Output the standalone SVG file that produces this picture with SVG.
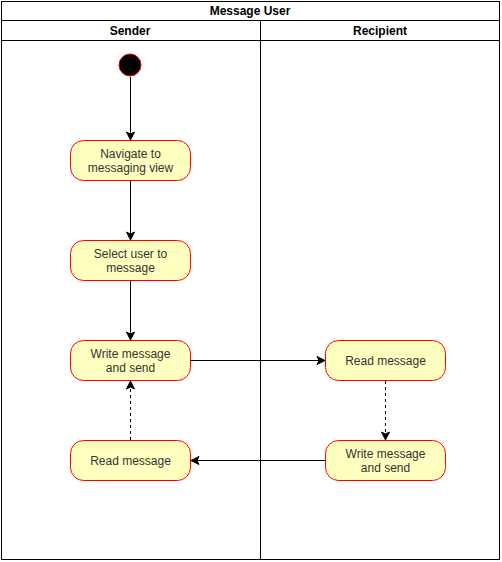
<svg xmlns="http://www.w3.org/2000/svg" width="502" height="562" viewBox="0 0 502 562">
<defs>
<marker id="arr" markerWidth="10" markerHeight="10" refX="9" refY="5" orient="auto" markerUnits="userSpaceOnUse">
<path d="M1,1 L9,5 L1,9 L3,5 Z" fill="#000" stroke="#000" stroke-width="1"/>
</marker>
</defs>
<style>
text{font-family:"Liberation Sans",Arial,sans-serif;font-size:12px;fill:#000;text-anchor:middle}
.hdr{font-weight:bold}
.lane{fill:#fff;stroke:#000;stroke-width:1}
.act rect{fill:#ffffc0;stroke:#ff0000;stroke-width:1}
.act text{fill:#333}
.e{fill:none;stroke:#000;stroke-width:1}
.d{stroke-dasharray:3,3}
</style>
<g id="pool">
<rect class="lane" x="1.5" y="1.5" width="498" height="558"/>
<line x1="1.5" y1="20.5" x2="499.5" y2="20.5" stroke="#000"/>
<line x1="1.5" y1="40.5" x2="499.5" y2="40.5" stroke="#000"/>
<line x1="260.5" y1="20.5" x2="260.5" y2="559.5" stroke="#000"/>
<text class="hdr" x="250" y="15">Message User</text>
<text class="hdr" x="130" y="35">Sender</text>
<text class="hdr" x="380" y="35">Recipient</text>
</g>
<g id="start"><circle cx="130" cy="65" r="11" fill="#000" stroke="#ff0000"/></g>
<g id="navigate" class="act"><rect x="70.5" y="140.5" width="120" height="40" rx="13"/><text x="130.5" y="158">Navigate to</text><text x="130.5" y="172">messaging view</text></g>
<g id="select" class="act"><rect x="70.5" y="240.5" width="120" height="40" rx="13"/><text x="130.5" y="258">Select user to</text><text x="130.5" y="272">message</text></g>
<g id="write1" class="act"><rect x="70.5" y="340.5" width="120" height="40" rx="13"/><text x="130.5" y="358">Write message</text><text x="130.5" y="372">and send</text></g>
<g id="read1" class="act"><rect x="70.5" y="440.5" width="120" height="40" rx="13"/><text x="130.5" y="465">Read message</text></g>
<g id="read2" class="act"><rect x="325.5" y="340.5" width="120" height="40" rx="13"/><text x="385.5" y="365">Read message</text></g>
<g id="write2" class="act"><rect x="325.5" y="440.5" width="120" height="40" rx="13"/><text x="385.5" y="458">Write message</text><text x="385.5" y="472">and send</text></g>
<g id="connectors">
<line class="e" x1="130.5" y1="77" x2="130.5" y2="140" marker-end="url(#arr)"/>
<line class="e" x1="130.5" y1="181" x2="130.5" y2="240" marker-end="url(#arr)"/>
<line class="e" x1="130.5" y1="281" x2="130.5" y2="340" marker-end="url(#arr)"/>
<line class="e" x1="191" y1="360.5" x2="325" y2="360.5" marker-end="url(#arr)"/>
<line class="e d" x1="385.5" y1="381" x2="385.5" y2="440" marker-end="url(#arr)"/>
<line class="e" x1="325" y1="460.5" x2="191" y2="460.5" marker-end="url(#arr)"/>
<line class="e d" x1="130.5" y1="440" x2="130.5" y2="381" marker-end="url(#arr)"/>
</g>
</svg>
